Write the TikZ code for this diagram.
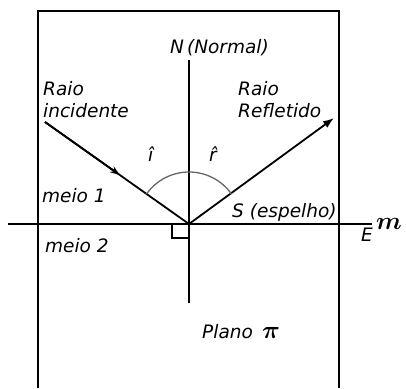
\documentclass[tikz,border=0pt]{standalone}
\usepackage{fontspec}
\setmainfont{DejaVu Sans}
\usetikzlibrary{arrows.meta,calc}
\begin{document}
\begin{tikzpicture}[x=1pt,y=-1pt,
  lbl/.style={anchor=base west,inner sep=0pt,font=\fontsize{18.5}{21}\selectfont\itshape},
  frame/.style={line width=1.4pt},
  ray/.style={line width=1.8pt},
  arcline/.style={line width=1.3pt,draw=black!60}]
\useasboundingbox (0,0) rectangle (406,388);
% frame (plane)
\coordinate (TL) at (38,11);
\coordinate (TR) at (339,11);
\coordinate (BL) at (38,388);
\coordinate (BR) at (339,388);
\draw[frame] (BL) -- (TL) -- (TR) -- (BR);
% mirror line and normal
\coordinate (ML) at (8,224);
\coordinate (MR) at (372,224);
\coordinate (O) at (189,224);
\coordinate (NT) at (189,60);
\coordinate (NB) at (189,303);
\draw[frame] (ML) -- (MR);
\draw[frame] (NT) -- (NB);
% right angle square
\coordinate (S1) at (172,224);
\coordinate (S2) at (172,238);
\coordinate (S3) at (189,238);
\draw[frame] (S1) -- (S2) -- (S3);
% rays
\coordinate (A) at (45,122);
\coordinate (B) at (334,118);
\coordinate (Am) at ($(A)!0.52!(O)$);
\draw[ray] (A) -- (O);
\draw[ray,-{Stealth[length=10pt,width=7pt]}] (A) -- (Am);
\draw[ray,-{Latex[length=11pt,width=8pt]}] (O) -- (B);
% angle arcs
\draw[arcline] ($(O)+(-145:52)$) arc[start angle=-145,end angle=-90,radius=52];
\draw[arcline] ($(O)+(-90:52)$) arc[start angle=-90,end angle=-35,radius=52];
% labels
\node[lbl] (n) at (170,53) {N\hspace{3pt}(Normal)};
\node[lbl] (ri1) at (43,95) {Raio};
\node[lbl] (ri2) at (43,117) {incidente};
\node[lbl] (rr1) at (238,95) {Raio};
\node[lbl] (rr2) at (238,117) {Refletido};
\node[lbl] (ihat) at (148,161) {î};
\node[lbl] (rhat) at (209,161) {\^{r}};
\node[lbl] (m1) at (42,202) {meio 1};
\node[lbl] (s) at (232,217) {S (espelho)};
\node[lbl] (m2) at (45,252) {meio 2};
\node[lbl] (e) at (361,241) {E};
\node[anchor=base west,inner sep=0pt,font=\fontsize{24}{26}\selectfont\boldmath] (m) at (376,229) {$m$};
\node[lbl] (pl) at (202,338) {Plano};
\node[anchor=base west,inner sep=0pt,font=\fontsize{34}{36}\selectfont\boldmath] (pi) at (262,338) {$\pi$};
\end{tikzpicture}
\end{document}
